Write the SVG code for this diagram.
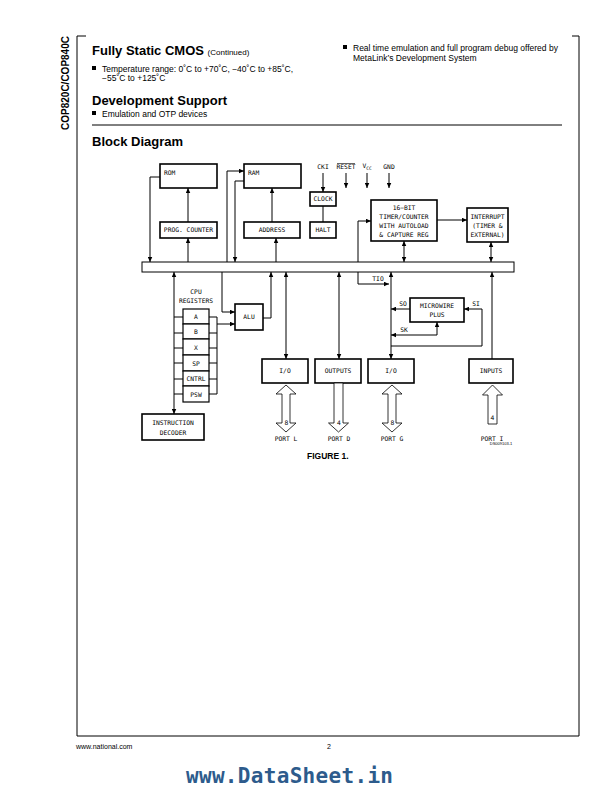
<svg xmlns="http://www.w3.org/2000/svg" width="612" height="792" viewBox="0 0 612 792">
<defs>
<marker id="ah" viewBox="0 0 10 10" refX="10" refY="5" markerWidth="5" markerHeight="5" markerUnits="userSpaceOnUse" orient="auto-start-reverse">
<path d="M0,0.5 L10,5 L0,9.5 z" fill="#000"/>
</marker>
<style>
.hd{font-family:"Liberation Sans",Arial,sans-serif;font-weight:bold;font-size:13px;fill:#000}
.bd{font-family:"Liberation Sans",Arial,sans-serif;font-size:8.5px;fill:#000}
.lb{font-family:"DejaVu Sans Mono","Liberation Mono",monospace;font-size:6.3px;fill:#000;text-anchor:middle}
.lbs{font-family:"DejaVu Sans Mono","Liberation Mono",monospace;font-size:6.3px;fill:#000}
.box{fill:#fff;stroke:#000;stroke-width:1.6}
.reg{fill:#fff;stroke:#000;stroke-width:1.2}
.ln{fill:none;stroke:#000;stroke-width:1}
.arr{fill:none;stroke:#000;stroke-width:1;marker-end:url(#ah)}
.dbl{fill:none;stroke:#000;stroke-width:1;marker-end:url(#ah);marker-start:url(#ah)}
.port{fill:#fff;stroke:#000;stroke-width:0.8}
.frame{fill:none;stroke:#000;stroke-width:1}
</style>
</defs>
<rect width="612" height="792" fill="#fff"/>

<!-- page frame -->
<g id="frame">
<path class="frame" d="M86,36 H77 V736 H579 V36 H572"/>
<line x1="92" y1="125" x2="562" y2="125" stroke="#000" stroke-width="1"/>
<text x="69" y="83" transform="rotate(-90 69 83)" text-anchor="middle" style="font-family:'Liberation Sans',Arial,sans-serif;font-weight:bold;font-size:10px">COP820C/COP840C</text>
</g>

<!-- header text -->
<g id="header">
<text x="92" y="55" class="hd">Fully Static CMOS <tspan style="font-weight:normal;font-size:8px">(Continued)</tspan></text>
<rect x="92" y="66" width="4" height="4" fill="#000"/>
<text x="102" y="71.5" class="bd">Temperature range: 0˚C to +70˚C, −40˚C to +85˚C,</text>
<text x="102" y="81" class="bd">−55˚C to +125˚C</text>
<text x="92" y="105" class="hd">Development Support</text>
<rect x="92" y="111" width="4" height="4" fill="#000"/>
<text x="102" y="116.5" class="bd">Emulation and OTP devices</text>
<text x="92" y="146" class="hd">Block Diagram</text>
<rect x="343" y="45" width="4" height="4" fill="#000"/>
<text x="353" y="51" class="bd">Real time emulation and full program debug offered by</text>
<text x="353" y="61" class="bd">MetaLink’s Development System</text>
</g>

<!-- connectors -->
<g id="connectors">
<path class="arr" d="M160,177 H150 V262"/>
<path class="arr" d="M188,222 V188"/>
<path class="arr" d="M188,262 V238"/>
<path class="arr" d="M227,262 V171 H244"/>
<path class="arr" d="M244,181 H235 V262"/>
<path class="arr" d="M272,222 V188"/>
<path class="arr" d="M276,262 V238"/>
<path class="arr" d="M323,173 V192"/>
<path class="arr" d="M346,173 V188"/>
<path class="arr" d="M367,173 V188"/>
<path class="arr" d="M389,173 V188"/>
<path class="ln" d="M323,206 V222"/>
<path class="arr" d="M437,220 H467"/>
<path class="dbl" d="M404,241 V262"/>
<path class="dbl" d="M491,242 V262"/>
<path class="dbl" d="M389,284 H358 V221 H371"/>
<path class="dbl" d="M391,272 V359"/>
<path class="arr" d="M410,309 H391"/>
<path class="dbl" d="M391,335 H437 V322"/>
<path class="arr" d="M391,346 H482 V309 H464"/>
<path class="arr" d="M492,359 V272"/>
<path class="dbl" d="M339,272 V359"/>
<path class="dbl" d="M286,272 V359"/>
<path class="arr" d="M263,318 H271 V272"/>
<path class="arr" d="M222,272 V312 H235"/>
<path class="arr" d="M217,324 H235"/>
<path class="ln" d="M209,317 H217 V394 H209 M209,333 H217 M209,348 H217 M209,363 H217 M209,379 H217"/>
<path class="ln" d="M174,317 H183 M174,333 H183 M174,348 H183 M174,363 H183 M174,379 H183 M174,394 H183"/>
<path class="dbl" d="M174,272 V414"/>
</g>

<!-- bus -->
<g id="bus">
<rect x="142" y="262" width="372" height="10" fill="#fff" stroke="#000" stroke-width="1"/>
</g>

<!-- nodes -->
<g id="rom"><rect class="box" x="160" y="164" width="57" height="24"/><text class="lbs" x="164" y="175">ROM</text></g>
<g id="prog-counter"><rect class="box" x="160" y="222" width="57" height="16"/><text class="lb" x="188.5" y="232.2">PROG. COUNTER</text></g>
<g id="ram"><rect class="box" x="244" y="164" width="57" height="24"/><text class="lbs" x="248" y="175">RAM</text></g>
<g id="address"><rect class="box" x="244" y="222" width="56" height="16"/><text class="lb" x="272" y="232.2">ADDRESS</text></g>
<g id="clock"><rect class="box" x="310" y="192" width="26" height="14"/><text class="lb" x="323" y="201.2">CLOCK</text></g>
<g id="halt"><rect class="box" x="310" y="222" width="26" height="16"/><text class="lb" x="323" y="232.2">HALT</text></g>
<g id="pins">
<text class="lb" x="323" y="169">CKI</text>
<text class="lb" x="346" y="169">RESET</text>
<line x1="337" y1="163.5" x2="355" y2="163.5" stroke="#000" stroke-width="0.6"/>
<text class="lbs" x="362.5" y="168">V<tspan font-size="4.6" dy="2">CC</tspan></text>
<text class="lb" x="389" y="169">GND</text>
</g>
<g id="timer"><rect class="box" x="371" y="200" width="66" height="41"/>
<text class="lb" x="404" y="210">16−BIT</text>
<text class="lb" x="404" y="219">TIMER/COUNTER</text>
<text class="lb" x="404" y="228">WITH AUTOLOAD</text>
<text class="lb" x="404" y="237">&amp; CAPTURE REG</text></g>
<g id="interrupt"><rect class="box" x="467" y="208" width="41" height="34"/>
<text class="lb" x="487.5" y="219">INTERRUPT</text>
<text class="lb" x="487.5" y="228">(TIMER &amp;</text>
<text class="lb" x="487.5" y="237">EXTERNAL)</text></g>
<g id="alu"><rect class="box" x="235" y="304" width="28" height="26"/><text class="lb" x="249" y="319.2">ALU</text></g>
<g id="cpu-registers">
<text class="lb" x="196" y="294">CPU</text>
<text class="lb" x="196" y="303">REGISTERS</text>
<rect class="reg" x="183" y="309" width="26" height="15"/><text class="lb" x="196" y="319">A</text>
<rect class="reg" x="183" y="324" width="26" height="15"/><text class="lb" x="196" y="334">B</text>
<rect class="reg" x="183" y="339" width="26" height="16"/><text class="lb" x="196" y="349.5">X</text>
<rect class="reg" x="183" y="355" width="26" height="16"/><text class="lb" x="196" y="365.5">SP</text>
<rect class="reg" x="183" y="371" width="26" height="15"/><text class="lb" x="196" y="381">CNTRL</text>
<rect class="reg" x="183" y="386" width="26" height="16"/><text class="lb" x="196" y="396.5">PSW</text>
</g>
<g id="instruction-decoder"><rect class="box" x="142" y="414" width="62" height="26"/>
<text class="lb" x="173" y="425">INSTRUCTION</text>
<text class="lb" x="173" y="435">DECODER</text></g>
<g id="io-l"><rect class="box" x="262" y="359" width="46" height="24"/><text class="lb" x="285" y="373.2">I/O</text></g>
<g id="outputs"><rect class="box" x="315" y="359" width="46" height="24"/><text class="lb" x="338" y="373.2">OUTPUTS</text></g>
<g id="io-g"><rect class="box" x="368" y="359" width="46" height="24"/><text class="lb" x="391" y="373.2">I/O</text></g>
<g id="microwire"><rect class="box" x="410" y="298" width="54" height="24"/>
<text class="lb" x="437" y="308">MICROWIRE</text>
<text class="lb" x="437" y="317">PLUS</text></g>
<g id="inputs"><rect class="box" x="469" y="359" width="44" height="24"/><text class="lb" x="491" y="373.2">INPUTS</text></g>
<g id="signal-labels">
<text class="lb" x="378" y="281">TIO</text>
<text class="lb" x="403" y="306">SO</text>
<text class="lb" x="404" y="332">SK</text>
<text class="lb" x="476" y="306">SI</text>
</g>

<!-- ports -->
<g id="port-l">
<polygon class="port" points="286,385 296,394 290,394 290,423 296,423 286,432 276,423 282,423 282,394 276,394"/>
<text class="lb" x="286.5" y="425" font-size="5.5">8</text>
<text class="lb" x="286" y="441">PORT L</text>
</g>
<g id="port-d">
<polygon class="port" points="334,383 343,383 343,423 348.5,423 338.5,432 328.5,423 334,423"/>
<text class="lb" x="339" y="425" font-size="5.5">4</text>
<text class="lb" x="339" y="441">PORT D</text>
</g>
<g id="port-g">
<polygon class="port" points="392,385 402,394 396,394 396,423 402,423 392,432 382,423 388,423 388,394 382,394"/>
<text class="lb" x="392.5" y="425" font-size="5.5">8</text>
<text class="lb" x="392" y="441">PORT G</text>
</g>
<g id="port-i">
<polygon class="port" points="492.5,385 502.5,395 497,395 497,424 488,424 488,395 482.5,395"/>
<text class="lb" x="492.5" y="420" font-size="5.5">4</text>
<text class="lb" x="492" y="441">PORT I</text>
<text x="501" y="445" text-anchor="middle" style="font-family:'Liberation Sans',Arial,sans-serif;font-size:4px">DS009103-1</text>
</g>
<text x="307" y="459" style="font-family:'Liberation Sans',Arial,sans-serif;font-weight:bold;font-size:8.5px">FIGURE 1.</text>

<!-- footer -->
<g id="footer">
<text x="76" y="749" style="font-family:'Liberation Sans',Arial,sans-serif;font-size:7px">www.national.com</text>
<text x="329" y="749" text-anchor="middle" style="font-family:'Liberation Sans',Arial,sans-serif;font-size:7px">2</text>
<text x="186" y="783" textLength="207" lengthAdjust="spacing" style="font-family:'DejaVu Sans Mono',monospace;font-weight:bold;font-size:21px;fill:#2d5b8c">www.DataSheet.in</text>
</g>
</svg>
